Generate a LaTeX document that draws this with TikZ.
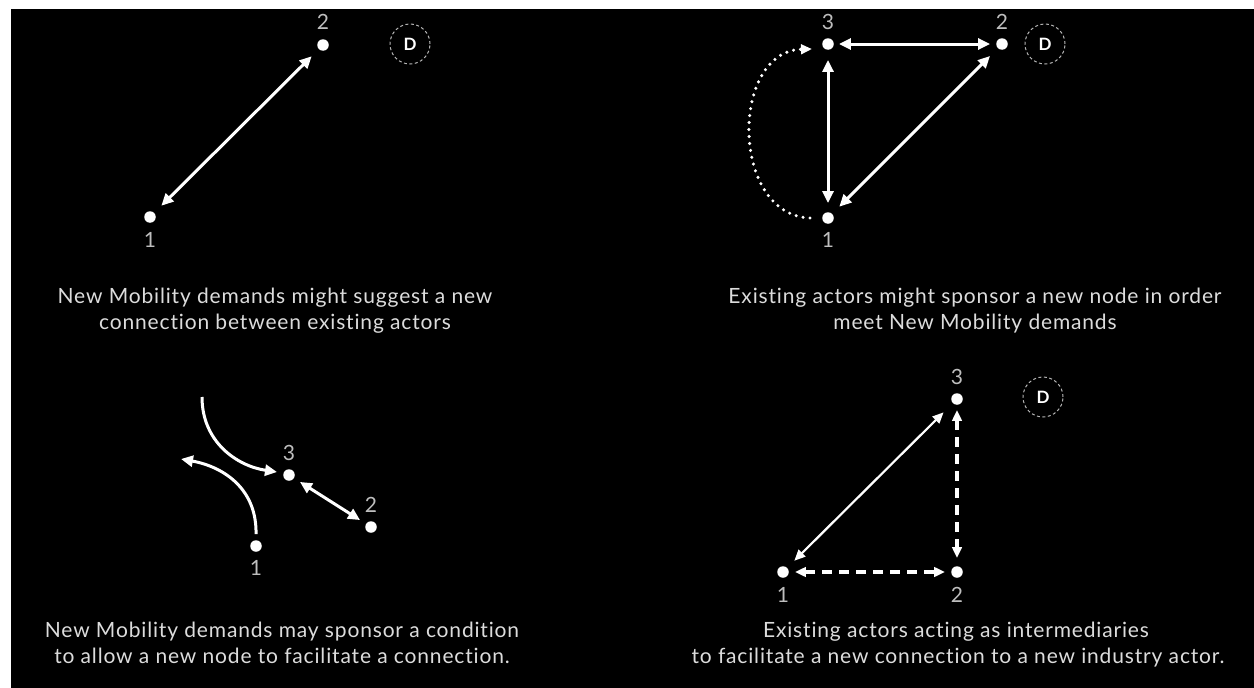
\documentclass[tikz,border=0pt]{standalone}
\usepackage{fontspec}
\setmainfont{Lato}[Ligatures=NoCommon,LetterSpace=4]
\usetikzlibrary{arrows.meta,calc}
\definecolor{capgray}{HTML}{DCDCDC}
\definecolor{numgray}{HTML}{BEBEBE}
\definecolor{ringgray}{HTML}{B4B4B4}
\tikzset{
  actor/.style={circle,fill=white,minimum size=11.5pt,inner sep=0pt},
  numlabel/.style={text=numgray,font=\fontsize{21}{21}\selectfont,inner sep=0pt},
  captxt/.style={text=capgray,font=\fontsize{21}{26}\selectfont,inner sep=0pt,anchor=base},
  dring/.style={circle,draw=ringgray,dash pattern=on 3pt off 2.5pt,line width=1pt,minimum size=40pt,inner sep=0pt,text=white,font=\fontsize{17}{17}\selectfont\bfseries},
  tipbig/.tip={Triangle[length=12pt,width=11pt]},
  tipsmall/.tip={Triangle[length=11pt,width=9.5pt]},
  link/.style={draw=white,line width=3pt,tipbig-tipbig},
  thinlink/.style={draw=white,line width=2.2pt,tipsmall-tipsmall},
  dashlink/.style={draw=white,line width=4pt,dash pattern=on 10pt off 7pt,tipsmall-tipsmall},
  curvelink/.style={draw=white,line width=3pt,-tipbig},
  dotlink/.style={draw=white,line width=3.4pt,line cap=round,dash pattern=on 0pt off 7pt,-tipsmall}
}
\begin{document}
\begin{tikzpicture}[x=1pt,y=-1pt]
\useasboundingbox (0,0) rectangle (1254,688);
\fill[white] (0,0) rectangle (1254,688);
\fill[black] (11,9) rectangle (1254,688);

% Panel 1
\node[actor] (a1) at (150,217) {};
\node[actor] (a2) at (323,45) {};
\node[numlabel] (a1l) at (150,240) {1};
\node[numlabel] (a2l) at (323,22) {2};
\node[dring] (aD) at (410,44) {D};
\draw[link,shorten <=10pt,shorten >=10pt] (a1) -- (a2);

% Panel 2
\node[actor] (b3) at (828,44) {};
\node[actor] (b2) at (1002,44) {};
\node[actor] (b1) at (828,218) {};
\node[numlabel] (b3l) at (828,22) {3};
\node[numlabel] (b2l) at (1002,22) {2};
\node[numlabel] (b1l) at (828,240) {1};
\node[dring] (bD) at (1045,44) {D};
\draw[link,shorten <=5pt,shorten >=6pt] (b3) -- (b2);
\draw[link,shorten <=10pt,shorten >=9pt] (b3) -- (b1);
\draw[link,shorten <=11pt,shorten >=10pt] (b2) -- (b1);
\draw[dotlink] ($(b1)+(-18,0)$) .. controls +(-80,-3) and +(-82,2) .. ($(b3)+(-16,5)$);

% Panel 3
\node[actor] (c3) at (289,475) {};
\node[actor] (c2) at (371,527) {};
\node[actor] (c1) at (256,546) {};
\node[numlabel] (c3l) at (289,453) {3};
\node[numlabel] (c2l) at (371,505) {2};
\node[numlabel] (c1l) at (256,568) {1};
\draw[link,shorten <=7pt,shorten >=7pt] (c3) -- (c2);
\coordinate (cAs) at (202,397);
\coordinate (cBe) at (181,459);
\draw[curvelink] (cAs) .. controls +(0,45) and +(-40,-6) .. ($(c3)+(-12,-3)$);
\draw[curvelink] ($(c1)+(0,-12)$) .. controls +(1,-44) and +(44,8) .. (cBe);

% Panel 4
\node[actor] (d3) at (957,399) {};
\node[actor] (d2) at (957,572) {};
\node[actor] (d1) at (783,572) {};
\node[numlabel] (d3l) at (957,377) {3};
\node[numlabel] (d2l) at (957,595) {2};
\node[numlabel] (d1l) at (783,595) {1};
\node[dring] (dD) at (1043,397) {D};
\draw[thinlink,shorten <=10pt,shorten >=13pt] (d1) -- (d3);
\draw[dashlink,shorten <=6pt,shorten >=6pt] (d1) -- (d2);
\draw[dashlink,shorten <=5pt,shorten >=8pt] (d3) -- (d2);

% Captions
\node[captxt] (capA1) at (275,303) {New Mobility demands might suggest a new};
\node[captxt] (capA2) at (275,329) {connection between existing actors};
\node[captxt] (capB1) at (975,303) {Existing actors might sponsor a new node in order};
\node[captxt] (capB2) at (975,329) {meet New Mobility demands};
\node[captxt] (capC1) at (282,637) {New Mobility demands may sponsor a condition};
\node[captxt] (capC2) at (282,663) {to allow a new node to facilitate a connection.};
\node[captxt] (capD1) at (956,637) {Existing actors acting as intermediaries};
\node[captxt] (capD2) at (958,663) {to facilitate a new connection to a new industry actor.};
\end{tikzpicture}
\end{document}
